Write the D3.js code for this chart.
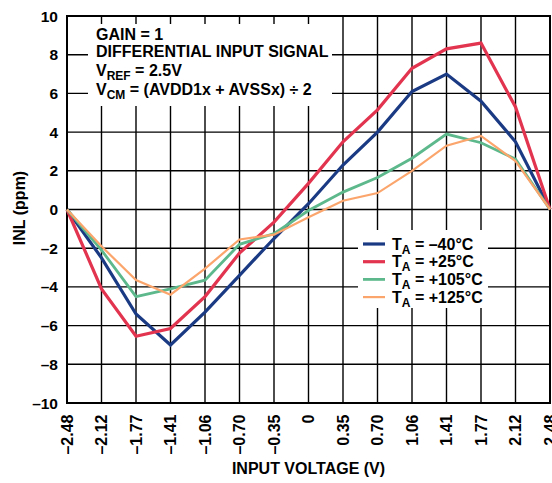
<!DOCTYPE html>
<html>
<head>
<meta charset="utf-8">
<script src="https://cdn.jsdelivr.net/npm/d3@7"></script>
<style>
  html, body { margin: 0; padding: 0; background: #fff; }
  svg { display: block; }
  text { font-family: "Liberation Sans", Arial, Helvetica, sans-serif; font-weight: bold; fill: #000; }
</style>
</head>
<body>
<svg id="chart" width="552" height="483"></svg>
<script>
// ---- data ----
const xLabels = ["–2.48","–2.12","–1.77","–1.41","–1.06","–0.70","–0.35","0","0.35","0.70","1.06","1.41","1.77","2.12","2.48"];
const yTicks = [-10,-8,-6,-4,-2,0,2,4,6,8,10];
const seriesNames = ["–40°C","+25°C","+105°C","+125°C"];
const inlM40  = [0,-2.5,-5.4,-7.0,-5.3,-3.4,-1.5,0.3,2.3,4.0,6.1,7.0,5.6,3.5,0];
const inlP25  = [0,-4.1,-6.55,-6.15,-4.5,-2.25,-0.65,1.35,3.5,5.15,7.3,8.3,8.6,5.3,0];
const inlP105 = [0,-2.1,-4.5,-4.1,-3.65,-1.8,-1.25,-0.05,0.9,1.65,2.65,3.9,3.45,2.6,0];
const inlP125 = [0,-1.9,-3.65,-4.4,-3.05,-1.55,-1.3,-0.4,0.45,0.85,2.0,3.3,3.8,2.5,0];
const seriesValues = [inlM40, inlP25, inlP105, inlP125];
const colors = ["#1b3a84","#e2344f","#5db98c","#fba56c"];
const widths = [3.2, 3.2, 2.8, 2.2];

// ---- layout ----
const L = 67, R = 550, T = 16, B = 403;
const svg = d3.select("#chart");
const x = d3.scalePoint().domain(xLabels).range([L, R]);
const y = d3.scaleLinear().domain([-10, 10]).range([B, T]);

// grid
const grid = svg.append("g");
grid.selectAll("line.v").data(xLabels).enter().append("line")
  .attr("x1", d => x(d)).attr("x2", d => x(d)).attr("y1", T).attr("y2", B)
  .attr("stroke", "#000").attr("stroke-width", 1.4);
grid.selectAll("line.h").data(yTicks).enter().append("line")
  .attr("x1", L).attr("x2", R).attr("y1", d => y(d)).attr("y2", d => y(d))
  .attr("stroke", "#000").attr("stroke-width", 1.4);

// frame
svg.append("rect").attr("x", L).attr("y", T).attr("width", R - L).attr("height", B - T)
  .attr("fill", "none").attr("stroke", "#000").attr("stroke-width", 2);

// y tick labels
svg.append("g").selectAll("text").data(yTicks).enter().append("text")
  .attr("x", 58).attr("y", d => y(d)).attr("dy", "0.36em")
  .attr("text-anchor", "end").attr("font-size", 15.5)
  .text(d => d < 0 ? "–" + Math.abs(d) : String(d));

// x tick labels (rotated)
svg.append("g").selectAll("text").data(xLabels).enter().append("text")
  .attr("transform", d => `translate(${x(d) + 5.5},414.5) rotate(-90)`)
  .attr("text-anchor", "end").attr("font-size", 16)
  .text(d => d);

// axis titles
svg.append("text").attr("x", (L + R) / 2).attr("y", 474).attr("text-anchor", "middle")
  .attr("font-size", 16).text("INPUT VOLTAGE (V)");
svg.append("text").attr("transform", `translate(25,208) rotate(-90)`)
  .attr("text-anchor", "middle").attr("font-size", 16).text("INL (ppm)");

// annotation box
svg.append("rect").attr("x", 88).attr("y", 24).attr("width", 244).attr("height", 82).attr("fill", "#fff");
const ann = svg.append("g");
ann.append("text").attr("x", 96).attr("y", 39.5).attr("font-size", 16).text("GAIN = 1");
ann.append("text").attr("x", 96).attr("y", 57).attr("font-size", 16).text("DIFFERENTIAL INPUT SIGNAL");
const t3 = ann.append("text").attr("x", 96).attr("y", 76).attr("font-size", 16);
t3.append("tspan").text("V");
t3.append("tspan").attr("dy", 4).attr("font-size", 12).text("REF");
t3.append("tspan").attr("dy", -4).text(" = 2.5V");
const t4 = ann.append("text").attr("x", 96).attr("y", 95).attr("font-size", 16);
t4.append("tspan").text("V");
t4.append("tspan").attr("dy", 4).attr("font-size", 12).text("CM");
t4.append("tspan").attr("dy", -4).text(" = (AVDD1x + AVSSx) ÷ 2");

// legend box
svg.append("rect").attr("x", 358).attr("y", 230).attr("width", 130).attr("height", 78).attr("fill", "#fff");

// lines
const line = d3.line().x((d, i) => x(xLabels[i])).y(d => y(d));
svg.append("g").selectAll("path").data(seriesValues).enter().append("path")
  .attr("d", d => line(d)).attr("fill", "none")
  .attr("stroke", (d, i) => colors[i]).attr("stroke-width", (d, i) => widths[i])
  .attr("stroke-linejoin", "miter");

// legend
const leg = svg.append("g");
seriesNames.forEach((name, i) => {
  const by = 249.5 + i * 17.7;
  leg.append("line").attr("x1", 363).attr("x2", 385).attr("y1", by - 5.5).attr("y2", by - 5.5)
    .attr("stroke", colors[i]).attr("stroke-width", widths[i]);
  const t = leg.append("text").attr("x", 392).attr("y", by).attr("font-size", 16);
  t.append("tspan").text("T");
  t.append("tspan").attr("dy", 4).attr("font-size", 12).text("A");
  t.append("tspan").attr("dy", -4).text(" = " + name);
});
</script>
</body>
</html>
